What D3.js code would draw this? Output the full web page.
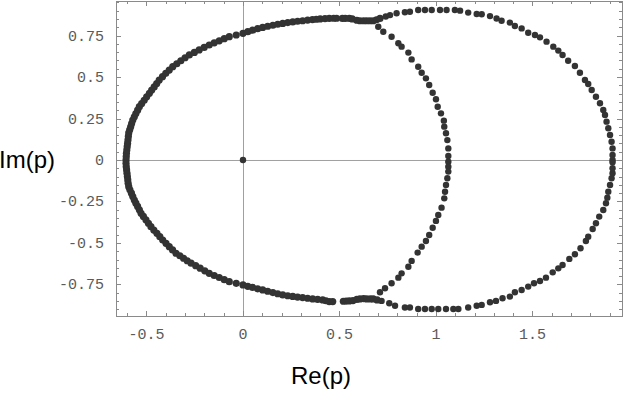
<!DOCTYPE html>
<html>
<head>
<meta charset="utf-8">
<script src="https://cdn.jsdelivr.net/npm/d3@7"></script>
<style>
  body { margin: 0; background: #fff; }
  .tickLabel { font-family: "Liberation Mono", monospace; font-size: 15px; fill: #5a5a5a; }
  .axisText { font-family: "Liberation Sans", Arial, sans-serif; font-size: 24px; fill: #000; }
</style>
</head>
<body>
<div id="plot"></div>
<script>
// Data: [Re(p), Im(p)] for each branch
var upperLeft = [[-0.606,0.000],[-0.605,0.020],[-0.604,0.040],[-0.602,0.060],[-0.600,0.080],[-0.598,0.100],[-0.596,0.120],[-0.594,0.142],[-0.592,0.163],[-0.587,0.182],[-0.582,0.200],[-0.577,0.220],[-0.571,0.241],[-0.563,0.260],[-0.555,0.280],[-0.546,0.300],[-0.537,0.321],[-0.525,0.340],[-0.512,0.360],[-0.499,0.381],[-0.485,0.402],[-0.473,0.421],[-0.460,0.440],[-0.447,0.461],[-0.434,0.482],[-0.417,0.502],[-0.400,0.522],[-0.382,0.542],[-0.364,0.562],[-0.343,0.580],[-0.322,0.598],[-0.300,0.616],[-0.278,0.633],[-0.252,0.648],[-0.227,0.663],[-0.201,0.678],[-0.175,0.693],[-0.149,0.706],[-0.123,0.718],[-0.097,0.731],[-0.071,0.743],[-0.035,0.753],[0.000,0.763],[0.025,0.773],[0.050,0.782],[0.076,0.791],[0.102,0.799],[0.128,0.806],[0.155,0.812],[0.180,0.818],[0.206,0.823],[0.232,0.828],[0.258,0.832],[0.283,0.836],[0.309,0.839],[0.335,0.843],[0.360,0.846],[0.380,0.848],[0.400,0.850],[0.425,0.852],[0.447,0.853],[0.470,0.854],[0.485,0.854],
  [0.515,0.853],[0.530,0.853],[0.551,0.853],[0.566,0.850],[0.590,0.842],[0.606,0.839],[0.625,0.839],[0.641,0.839],[0.658,0.839],[0.675,0.839],[0.692,0.845],[0.710,0.853]];

var lowerLeft = [[-0.606,-0.020],[-0.605,-0.040],[-0.603,-0.060],[-0.601,-0.080],[-0.599,-0.100],[-0.597,-0.120],[-0.595,-0.140],[-0.592,-0.161],[-0.586,-0.180],[-0.578,-0.200],[-0.571,-0.220],[-0.563,-0.241],[-0.555,-0.260],[-0.546,-0.280],[-0.537,-0.300],[-0.528,-0.321],[-0.516,-0.340],[-0.503,-0.360],[-0.490,-0.381],[-0.477,-0.402],[-0.462,-0.422],[-0.446,-0.442],[-0.431,-0.462],[-0.416,-0.482],[-0.399,-0.502],[-0.382,-0.522],[-0.365,-0.542],[-0.347,-0.562],[-0.327,-0.577],[-0.308,-0.592],[-0.289,-0.607],[-0.269,-0.622],[-0.245,-0.637],[-0.222,-0.652],[-0.198,-0.668],[-0.175,-0.683],[-0.149,-0.696],[-0.123,-0.708],[-0.097,-0.721],[-0.071,-0.733],[-0.035,-0.743],[0.000,-0.753],[0.025,-0.761],[0.050,-0.768],[0.076,-0.776],[0.102,-0.783],[0.128,-0.791],[0.155,-0.799],[0.180,-0.806],[0.206,-0.813],[0.232,-0.818],[0.258,-0.822],[0.283,-0.826],[0.309,-0.829],[0.335,-0.833],[0.361,-0.837],[0.387,-0.840],[0.413,-0.843],[0.430,-0.848],[0.447,-0.853],[0.465,-0.853],
  [0.520,-0.851],[0.535,-0.850],[0.551,-0.849],[0.570,-0.847],[0.590,-0.840],[0.606,-0.837],[0.625,-0.835],[0.641,-0.837],[0.660,-0.837],[0.675,-0.837],[0.695,-0.843]];

var upperOuter = [[0.740,0.865],[0.762,0.873],[0.796,0.884],[0.839,0.890],[0.865,0.893],[0.908,0.904],[0.943,0.904],[0.978,0.904],[1.021,0.904],[1.055,0.904],[1.098,0.904],[1.125,0.900],[1.167,0.888],[1.211,0.880],[1.237,0.878],[1.280,0.867],[1.314,0.853],[1.340,0.839],[1.383,0.828],[1.409,0.807],[1.444,0.793],[1.478,0.767],[1.513,0.753],[1.539,0.739],[1.573,0.713],[1.608,0.683],[1.634,0.659],[1.656,0.633],[1.685,0.598],[1.720,0.566],[1.746,0.526],[1.772,0.482],[1.789,0.458],[1.807,0.422],[1.829,0.381],[1.850,0.342],[1.867,0.301],[1.876,0.271],[1.884,0.231],[1.893,0.191],[1.902,0.151],[1.910,0.110],[1.915,0.070],[1.915,0.030],[1.915,0.000]];

var upperInner = [[0.701,0.803],[0.727,0.773],[0.770,0.743],[0.805,0.703],[0.822,0.683],[0.857,0.647],[0.874,0.606],[0.908,0.562],[0.926,0.526],[0.948,0.492],[0.965,0.452],[0.983,0.405],[1.000,0.366],[1.009,0.321],[1.026,0.281],[1.041,0.237],[1.043,0.201],[1.052,0.161],[1.059,0.120],[1.064,0.070],[1.064,0.024]];

var lowerInner = [[1.064,-0.010],[1.064,-0.040],[1.064,-0.070],[1.059,-0.110],[1.052,-0.151],[1.047,-0.191],[1.043,-0.231],[1.029,-0.287],[1.012,-0.331],[1.000,-0.367],[0.983,-0.408],[0.965,-0.452],[0.948,-0.488],[0.926,-0.522],[0.905,-0.558],[0.874,-0.608],[0.857,-0.643],[0.822,-0.683],[0.805,-0.709],[0.770,-0.743],[0.736,-0.773],[0.710,-0.797]];

var lowerOuter = [[0.718,-0.849],[0.758,-0.863],[0.788,-0.878],[0.839,-0.889],[0.865,-0.889],[0.908,-0.898],[0.943,-0.898],[0.978,-0.898],[1.012,-0.898],[1.052,-0.898],[1.090,-0.898],[1.116,-0.898],[1.167,-0.889],[1.211,-0.878],[1.237,-0.873],[1.280,-0.857],[1.311,-0.849],[1.345,-0.833],[1.383,-0.823],[1.409,-0.797],[1.444,-0.783],[1.478,-0.763],[1.508,-0.743],[1.539,-0.729],[1.570,-0.709],[1.605,-0.677],[1.634,-0.653],[1.656,-0.633],[1.691,-0.596],[1.720,-0.568],[1.749,-0.532],[1.777,-0.488],[1.789,-0.462],[1.812,-0.416],[1.829,-0.381],[1.846,-0.341],[1.867,-0.301],[1.881,-0.261],[1.888,-0.227],[1.893,-0.191],[1.902,-0.151],[1.910,-0.110],[1.915,-0.080],[1.915,-0.050],[1.915,-0.014]];

var originPoint = [[0, 0]];

// Tick values and labels
var xTicks = [-0.5, 0, 0.5, 1, 1.5];
var xTickLabels = ["-0.5", "0", "0.5", "1", "1.5"];
var yTicks = [0.75, 0.5, 0.25, 0, -0.25, -0.5, -0.75];
var yTickLabels = ["0.75", "0.5", "0.25", "0", "-0.25", "-0.5", "-0.75"];

// Set up chart
var svgWidth = 623;
var svgHeight = 393;
var frame = {left: 116, right: 622, top: 1, bottom: 316};

var svg = d3.select("#plot")
  .append("svg")
  .attr("width", svgWidth)
  .attr("height", svgHeight);

var xScale = d3.scaleLinear().domain([-0.658, 1.964]).range([frame.left, frame.right]);
var yScale = d3.scaleLinear().domain([-0.94, 0.958]).range([frame.bottom, frame.top]);

var gray = "#8a8a8a";

// Axes through the origin
svg.append("line")
  .attr("x1", frame.left).attr("x2", frame.right)
  .attr("y1", yScale(0) + 0.5).attr("y2", yScale(0) + 0.5)
  .attr("stroke", "#a0a0a0");
svg.append("line")
  .attr("x1", Math.round(xScale(0)) + 0.5).attr("x2", Math.round(xScale(0)) + 0.5)
  .attr("y1", frame.top).attr("y2", frame.bottom)
  .attr("stroke", "#a0a0a0");

// Frame ticks, drawn inward on all four sides
var xMinor = d3.range(-6, 20).map(d => d / 10);
var yMinor = d3.range(-18, 20).map(d => d / 20);
var ticks = svg.append("g").attr("stroke", gray).attr("stroke-width", 1);

xMinor.forEach(function(v) {
  var len = xTicks.some(t => Math.abs(t - v) < 1e-6) ? 5 : 3;
  var px = Math.round(xScale(v)) + 0.5;
  ticks.append("line").attr("x1", px).attr("x2", px).attr("y1", frame.bottom).attr("y2", frame.bottom - len);
  ticks.append("line").attr("x1", px).attr("x2", px).attr("y1", frame.top).attr("y2", frame.top + len);
});
yMinor.forEach(function(v) {
  var len = yTicks.some(t => Math.abs(t - v) < 1e-6) ? 5 : 3;
  var py = Math.round(yScale(v)) + 0.5;
  ticks.append("line").attr("x1", frame.left).attr("x2", frame.left + len).attr("y1", py).attr("y2", py);
  ticks.append("line").attr("x1", frame.right).attr("x2", frame.right - len).attr("y1", py).attr("y2", py);
});

// Frame
svg.append("rect")
  .attr("x", frame.left + 0.5)
  .attr("y", frame.top + 0.5)
  .attr("width", frame.right - frame.left)
  .attr("height", frame.bottom - frame.top)
  .attr("fill", "none")
  .attr("stroke", gray);

// Tick labels
svg.append("g").selectAll("text")
  .data(xTicks)
  .enter()
  .append("text")
  .attr("class", "tickLabel")
  .attr("x", d => xScale(d))
  .attr("y", 339)
  .attr("text-anchor", "middle")
  .text((d, i) => xTickLabels[i]);

svg.append("g").selectAll("text")
  .data(yTicks)
  .enter()
  .append("text")
  .attr("class", "tickLabel")
  .attr("x", 104)
  .attr("y", d => yScale(d) + 5)
  .attr("text-anchor", "end")
  .text((d, i) => yTickLabels[i]);

// Points: the dense left branches read as a thicker band
var leftPoints = [].concat(upperLeft, lowerLeft);
var rightPoints = [].concat(upperOuter, upperInner, lowerInner, lowerOuter, originPoint);

svg.append("g").selectAll("circle")
  .data(leftPoints)
  .enter()
  .append("circle")
  .attr("cx", d => xScale(d[0]))
  .attr("cy", d => yScale(d[1]))
  .attr("r", 3.6)
  .attr("fill", "#333");

svg.append("g").selectAll("circle")
  .data(rightPoints)
  .enter()
  .append("circle")
  .attr("cx", d => xScale(d[0]))
  .attr("cy", d => yScale(d[1]))
  .attr("r", 3.2)
  .attr("fill", "#333");

// Axis titles
svg.append("text")
  .attr("class", "axisText")
  .attr("x", -1)
  .attr("y", 168)
  .text("Im(p)");

svg.append("text")
  .attr("class", "axisText")
  .attr("x", 321)
  .attr("y", 384)
  .attr("text-anchor", "middle")
  .text("Re(p)");
</script>
</body>
</html>
